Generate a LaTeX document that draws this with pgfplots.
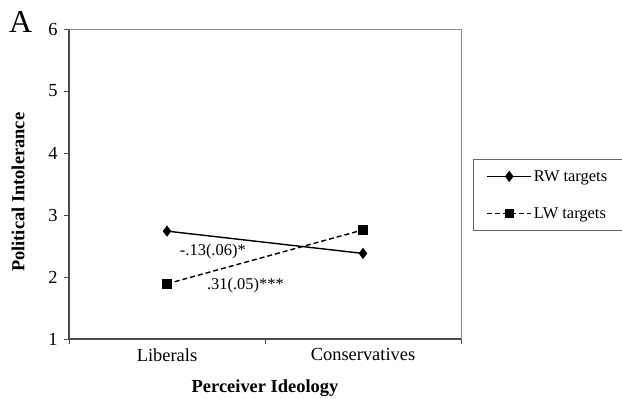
\documentclass[border=0pt]{standalone}
\usepackage{fontspec}
\setmainfont{Liberation Serif}
\usepackage{pgfplots}
\pgfplotsset{compat=1.18}
\begin{document}
\begin{tikzpicture}
\begin{axis}[
  scale only axis, width=392bp, height=310bp,
  xmin=-0.5, xmax=1.5, ymin=1, ymax=6,
  axis lines*=left,
  axis line style={draw=black!70, line width=1.3bp},
  xtick={-0.5,0.5,1.5}, xticklabels={},
  extra x ticks={0,1}, extra x tick labels={Liberals,Conservatives},
  extra x tick style={major tick length=0pt},
  ytick={1,2,3,4,5,6},
  tick align=outside, major tick length=5bp,
  tick style={draw=black!70, line width=0.8bp},
  /pgf/number format/assume math mode=true,
  tick label style={font=\fontsize{18.5}{20}\selectfont},
  yticklabel style={xshift=-3bp},
  xticklabel style={yshift=-6bp},
  xlabel={\textbf{Perceiver Ideology}},
  ylabel={\textbf{Political Intolerance}},
  label style={font=\fontsize{18.5}{20}\selectfont},
  xlabel style={at={(axis description cs:0.5,-0.171)}, anchor=base},
  ylabel style={at={(axis description cs:-0.130,0.473)}, anchor=center},
  legend style={at={(1.031,0.581)}, anchor=north west, draw=black!60, line width=0.8bp,
    font=\fontsize{16.5}{18}\selectfont, inner xsep=13bp, inner ysep=9bp, row sep=21bp,
    cells={anchor=west}},
  legend image code/.code={
    \draw[#1, mark repeat=2, mark phase=2] plot coordinates {(0bp,0bp) (22bp,0bp) (44bp,0bp)};
  },
  clip=false,
]
\addplot[black, line width=1.4bp, mark=diamond*, mark size=4.5bp, mark options={solid}]
  coordinates {(0,2.74) (1,2.38)};
\addlegendentry{RW targets}
\addplot[black, line width=1.4bp, dash pattern=on 5bp off 3bp, mark=square*, mark size=4bp, mark options={solid}]
  coordinates {(0,1.89) (1,2.76)};
\addlegendentry{LW targets}
\draw[black!45, line width=1bp] (rel axis cs:0,1) -- (rel axis cs:1,1) -- (rel axis cs:1,0);
\node[font=\fontsize{16.5}{18}\selectfont] at (axis cs:0.234,2.41) {-.13(.06)*};
\node[font=\fontsize{16.5}{18}\selectfont] at (axis cs:0.40,1.87) {.31(.05)***};
\node[font=\fontsize{32}{32}\selectfont, anchor=base west, inner sep=0pt] at (rel axis cs:-0.153,0.990) {A};
\coordinate (bl) at (rel axis cs:0,0);
\end{axis}
\pgfresetboundingbox
\path (bl) ++(-69bp,-60bp) rectangle ++(622bp,399bp);
\end{tikzpicture}
\end{document}
